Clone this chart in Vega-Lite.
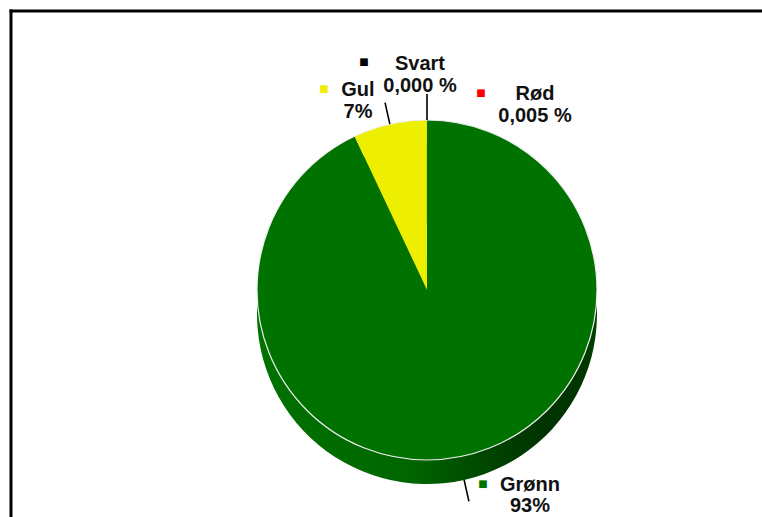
{
  "$schema": "https://vega.github.io/schema/vega-lite/v6.json",
  "width": 751,
  "height": 506,
  "autosize": "none",
  "padding": {"left": 11, "top": 11, "right": 0, "bottom": 0},
  "background": "white",
  "config": {
    "view": {"stroke": null},
    "text": {"font": "Liberation Sans", "fontWeight": "bold", "fontSize": 20, "color": "#111111"}
  },
  "data": {
    "values": [
      {"kategori": "Grønn", "andel": 93},
      {"kategori": "Gul", "andel": 7},
      {"kategori": "Rød", "andel": 0.005},
      {"kategori": "Svart", "andel": 0}
    ]
  },
  "transform": [
    {"stack": "andel", "groupby": [], "sort": [{"field": "kategori", "order": "ascending"}], "as": ["start", "slutt"]},
    {"calculate": "(datum.start + datum.slutt) / 2", "as": "midt"},
    {"calculate": "datum.kategori + '\\n' + (datum.andel >= 1 ? format(datum.andel, '.0f') + '%' : replace(format(datum.andel, '.3f'), '.', ',') + ' %')", "as": "etikett"}
  ],
  "layer": [
    {
      "data": {"values": [{}]},
      "mark": {"type": "rule", "stroke": "#000000", "strokeWidth": 3, "strokeCap": "square"},
      "encoding": {"x": {"value": 0}, "x2": {"value": "width"}, "y": {"value": 0}}
    },
    {
      "data": {"values": [{}]},
      "mark": {"type": "rule", "stroke": "#000000", "strokeWidth": 3, "strokeCap": "square"},
      "encoding": {"x": {"value": 0}, "y": {"value": 0}, "y2": {"value": "height"}}
    },
    {
      "mark": {
        "type": "arc", "outerRadius": 170, "xOffset": 40.5, "yOffset": 50,
        "fill": {
          "gradient": "linear", "x1": 0, "y1": 0, "x2": 1, "y2": 0,
          "stops": [
            {"offset": 0, "color": "#007200"},
            {"offset": 0.45, "color": "#006600"},
            {"offset": 0.55, "color": "#005800"},
            {"offset": 0.7, "color": "#004200"},
            {"offset": 0.85, "color": "#003300"},
            {"offset": 0.96, "color": "#003600"},
            {"offset": 1, "color": "#004200"}
          ]
        }
      },
      "encoding": {
        "theta": {"field": "start", "type": "quantitative"},
        "theta2": {"field": "slutt"}
      }
    },
    {
      "mark": {"type": "arc", "outerRadius": 170, "xOffset": 40.5, "yOffset": 26},
      "encoding": {
        "theta": {"field": "start", "type": "quantitative"},
        "theta2": {"field": "slutt"},
        "color": {
          "field": "kategori", "type": "nominal", "legend": null,
          "scale": {"domain": ["Grønn", "Gul", "Rød", "Svart"], "range": ["#007200", "#eeee00", "#ff0000", "#000000"]}
        }
      }
    },
    {
      "transform": [{"aggregate": [{"op": "sum", "field": "andel", "as": "total"}]}],
      "mark": {"type": "arc", "outerRadius": 170, "xOffset": 40.5, "yOffset": 26, "fill": "transparent", "stroke": "#eeeeee", "strokeWidth": 1.2},
      "encoding": {"theta": {"field": "total", "type": "quantitative"}}
    },
    {
      "transform": [{"filter": "datum.kategori === 'Svart'"}],
      "mark": {"type": "arc", "innerRadius": 170, "outerRadius": 196, "xOffset": 40.5, "yOffset": 26, "fill": "transparent", "stroke": "#000000", "strokeWidth": 1.6},
      "encoding": {"theta": {"field": "midt", "type": "quantitative", "stack": null}, "theta2": {"field": "midt"}}
    },
    {
      "transform": [{"filter": "datum.kategori === 'Gul'"}],
      "mark": {"type": "arc", "innerRadius": 170, "outerRadius": 192, "xOffset": 40.5, "yOffset": 26, "fill": "transparent", "stroke": "#000000", "strokeWidth": 1.6},
      "encoding": {"theta": {"field": "midt", "type": "quantitative", "stack": null}, "theta2": {"field": "midt"}}
    },
    {
      "transform": [{"filter": "datum.kategori === 'Grønn'"}],
      "mark": {"type": "arc", "innerRadius": 170, "outerRadius": 192, "xOffset": 40.5, "yOffset": 50, "fill": "transparent", "stroke": "#000000", "strokeWidth": 1.6},
      "encoding": {"theta": {"field": "midt", "type": "quantitative", "stack": null}, "theta2": {"field": "midt"}}
    },
    {
      "transform": [{"filter": "datum.kategori === 'Svart'"}],
      "mark": {"type": "text", "radius": 196, "xOffset": 40.5, "yOffset": 26, "dx": -7, "dy": -24, "align": "center", "baseline": "alphabetic", "lineBreak": "\n", "lineHeight": 22},
      "encoding": {"theta": {"field": "midt", "type": "quantitative", "stack": null}, "text": {"field": "etikett"}}
    },
    {
      "transform": [{"filter": "datum.kategori === 'Svart'"}],
      "mark": {"type": "text", "radius": 196, "xOffset": 40.5, "yOffset": 26, "dx": -63, "dy": -29, "align": "center", "baseline": "alphabetic", "fontSize": 10, "font": "DejaVu Sans"},
      "encoding": {"theta": {"field": "midt", "type": "quantitative", "stack": null}, "text": {"value": "■"}, "color": {"field": "kategori", "type": "nominal", "legend": null}}
    },
    {
      "transform": [{"filter": "datum.kategori === 'Rød'"}],
      "mark": {"type": "text", "radius": 196, "xOffset": 40.5, "yOffset": 26, "dx": 108, "dy": 6, "align": "center", "baseline": "alphabetic", "lineBreak": "\n", "lineHeight": 22},
      "encoding": {"theta": {"field": "midt", "type": "quantitative", "stack": null}, "text": {"field": "etikett"}}
    },
    {
      "transform": [{"filter": "datum.kategori === 'Rød'"}],
      "mark": {"type": "text", "radius": 196, "xOffset": 40.5, "yOffset": 26, "dx": 54, "dy": 2, "align": "center", "baseline": "alphabetic", "fontSize": 10, "font": "DejaVu Sans"},
      "encoding": {"theta": {"field": "midt", "type": "quantitative", "stack": null}, "text": {"value": "■"}, "color": {"field": "kategori", "type": "nominal", "legend": null}}
    },
    {
      "transform": [{"filter": "datum.kategori === 'Gul'"}],
      "mark": {"type": "text", "radius": 192, "xOffset": 40.5, "yOffset": 26, "dx": -27.1, "dy": -6.6, "align": "center", "baseline": "alphabetic", "lineBreak": "\n", "lineHeight": 22},
      "encoding": {"theta": {"field": "midt", "type": "quantitative", "stack": null}, "text": {"field": "etikett"}}
    },
    {
      "transform": [{"filter": "datum.kategori === 'Gul'"}],
      "mark": {"type": "text", "radius": 192, "xOffset": 40.5, "yOffset": 26, "dx": -61.1, "dy": -10.6, "align": "center", "baseline": "alphabetic", "fontSize": 10, "font": "DejaVu Sans"},
      "encoding": {"theta": {"field": "midt", "type": "quantitative", "stack": null}, "text": {"value": "■"}, "color": {"field": "kategori", "type": "nominal", "legend": null}}
    },
    {
      "transform": [{"filter": "datum.kategori === 'Grønn'"}],
      "mark": {"type": "text", "radius": 192, "xOffset": 40.5, "yOffset": 50, "dx": 61.1, "dy": -10.4, "align": "center", "baseline": "alphabetic", "lineBreak": "\n", "lineHeight": 21},
      "encoding": {"theta": {"field": "midt", "type": "quantitative", "stack": null}, "text": {"field": "etikett"}}
    },
    {
      "transform": [{"filter": "datum.kategori === 'Grønn'"}],
      "mark": {"type": "text", "radius": 192, "xOffset": 40.5, "yOffset": 50, "dx": 14.1, "dy": -14.4, "align": "center", "baseline": "alphabetic", "fontSize": 10, "font": "DejaVu Sans"},
      "encoding": {"theta": {"field": "midt", "type": "quantitative", "stack": null}, "text": {"value": "■"}, "color": {"field": "kategori", "type": "nominal", "legend": null}}
    }
  ]
}
